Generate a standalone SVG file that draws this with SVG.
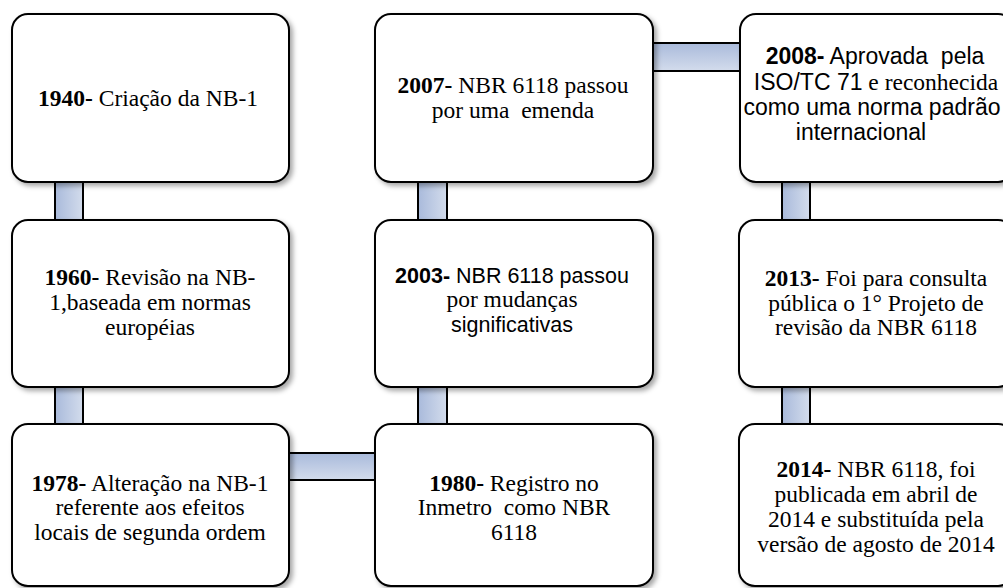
<svg xmlns="http://www.w3.org/2000/svg" width="1003" height="588" viewBox="0 0 1003 588">
<defs>
<filter id="sh" x="-10%" y="-10%" width="130%" height="130%">
<feDropShadow dx="3" dy="3" stdDeviation="2.5" flood-color="#000" flood-opacity="0.35"/>
</filter>
<linearGradient id="gv" x1="0" y1="0" x2="1" y2="0">
<stop offset="0" stop-color="#a9badb"/>
<stop offset="1" stop-color="#d3dcec"/>
</linearGradient>
<linearGradient id="gh" x1="0" y1="0" x2="0" y2="1">
<stop offset="0" stop-color="#a9badb"/>
<stop offset="1" stop-color="#d3dcec"/>
</linearGradient>
</defs>
<style>
.box{fill:#fff;stroke:#000;stroke-width:2;filter:url(#sh)}
.ln{stroke:#000;stroke-width:2}
text{font-family:'Liberation Serif','Times New Roman',serif;font-weight:normal;font-size:23.5px;fill:#000;text-anchor:middle}
.b{font-weight:bold}
.s{font-family:'Liberation Sans',Arial,sans-serif;font-size:21.5px}
.s2{font-family:'Liberation Sans',Arial,sans-serif;font-size:23px}
</style>
<rect width="1003" height="588" fill="#fff"/>
<g id="connectors">
<rect x="55" y="180" width="28" height="42" fill="url(#gv)"/>
<line class="ln" x1="55" y1="180" x2="55" y2="222"/><line class="ln" x1="83" y1="180" x2="83" y2="222"/>
<rect x="55" y="385" width="28" height="41" fill="url(#gv)"/>
<line class="ln" x1="55" y1="385" x2="55" y2="426"/><line class="ln" x1="83" y1="385" x2="83" y2="426"/>
<rect x="418" y="180" width="29" height="42" fill="url(#gv)"/>
<line class="ln" x1="418" y1="180" x2="418" y2="222"/><line class="ln" x1="447" y1="180" x2="447" y2="222"/>
<rect x="418" y="385" width="29" height="41" fill="url(#gv)"/>
<line class="ln" x1="418" y1="385" x2="418" y2="426"/><line class="ln" x1="447" y1="385" x2="447" y2="426"/>
<rect x="782" y="180" width="28" height="42" fill="url(#gv)"/>
<line class="ln" x1="782" y1="180" x2="782" y2="222"/><line class="ln" x1="810" y1="180" x2="810" y2="222"/>
<rect x="782" y="385" width="28" height="41" fill="url(#gv)"/>
<line class="ln" x1="782" y1="385" x2="782" y2="426"/><line class="ln" x1="810" y1="385" x2="810" y2="426"/>
<rect x="651" y="43" width="91" height="28" fill="url(#gh)"/>
<line class="ln" x1="651" y1="43" x2="742" y2="43"/><line class="ln" x1="651" y1="71" x2="742" y2="71"/>
<rect x="287" y="453" width="90" height="27" fill="url(#gh)"/>
<line class="ln" x1="287" y1="453" x2="377" y2="453"/><line class="ln" x1="287" y1="480" x2="377" y2="480"/>
</g>
<g id="n1940">
<rect class="box" x="12" y="14" width="277" height="168" rx="16"/>
<text x="148" y="106"><tspan class="b">1940-</tspan> Criação da NB-1</text>
</g>
<g id="n1960">
<rect class="box" x="12" y="220" width="277" height="167" rx="16"/>
<text x="150" y="285"><tspan class="b">1960-</tspan> Revisão na NB-</text>
<text x="150" y="310">1,baseada em normas</text>
<text x="150" y="335">européias</text>
</g>
<g id="n1978">
<rect class="box" x="12" y="424" width="277" height="162" rx="16"/>
<text x="150" y="491"><tspan class="b">1978-</tspan> Alteração na NB-1</text>
<text x="150" y="515">referente aos efeitos</text>
<text x="150" y="540">locais de segunda ordem</text>
</g>
<g id="n1980">
<rect class="box" x="375" y="424" width="278" height="162" rx="16"/>
<text x="514" y="491"><tspan class="b">1980-</tspan> Registro no</text>
<text x="514" y="515" xml:space="preserve">Inmetro  como NBR</text>
<text x="514" y="540">6118</text>
</g>
<g id="n2003">
<rect class="box" x="375" y="220" width="278" height="167" rx="16"/>
<text class="s" x="512" y="283"><tspan class="b">2003-</tspan> NBR 6118 passou</text>
<text x="512" y="307">por mudanças</text>
<text class="s" x="512" y="332">significativas</text>
</g>
<g id="n2007">
<rect class="box" x="375" y="14" width="278" height="168" rx="16"/>
<text x="513" y="93"><tspan class="b">2007-</tspan> NBR 6118 passou</text>
<text x="513" y="118" xml:space="preserve">por uma  emenda</text>
</g>
<g id="n2008">
<rect class="box" x="740" y="14" width="274" height="168" rx="16"/>
<text class="s2" x="875" y="64" xml:space="preserve"><tspan class="b">2008-</tspan> Aprovada  pela</text>
<text x="876" y="90"><tspan class="s2">ISO/TC 71</tspan> e reconhecida</text>
<text class="s2" x="872" y="115">como uma norma padrão</text>
<text class="s2" x="861" y="140">internacional</text>
</g>
<g id="n2013">
<rect class="box" x="739" y="220" width="275" height="167" rx="16"/>
<text x="876" y="286"><tspan class="b">2013-</tspan> Foi para consulta</text>
<text x="876" y="311">pública o 1° Projeto de</text>
<text x="876" y="335">revisão da NBR 6118</text>
</g>
<g id="n2014">
<rect class="box" x="739" y="424" width="275" height="162" rx="16"/>
<text x="876" y="477"><tspan class="b">2014-</tspan> NBR 6118, foi</text>
<text x="876" y="502">publicada em abril de</text>
<text x="876" y="527">2014 e substituída pela</text>
<text x="876" y="552">versão de agosto de 2014</text>
</g>
</svg>
